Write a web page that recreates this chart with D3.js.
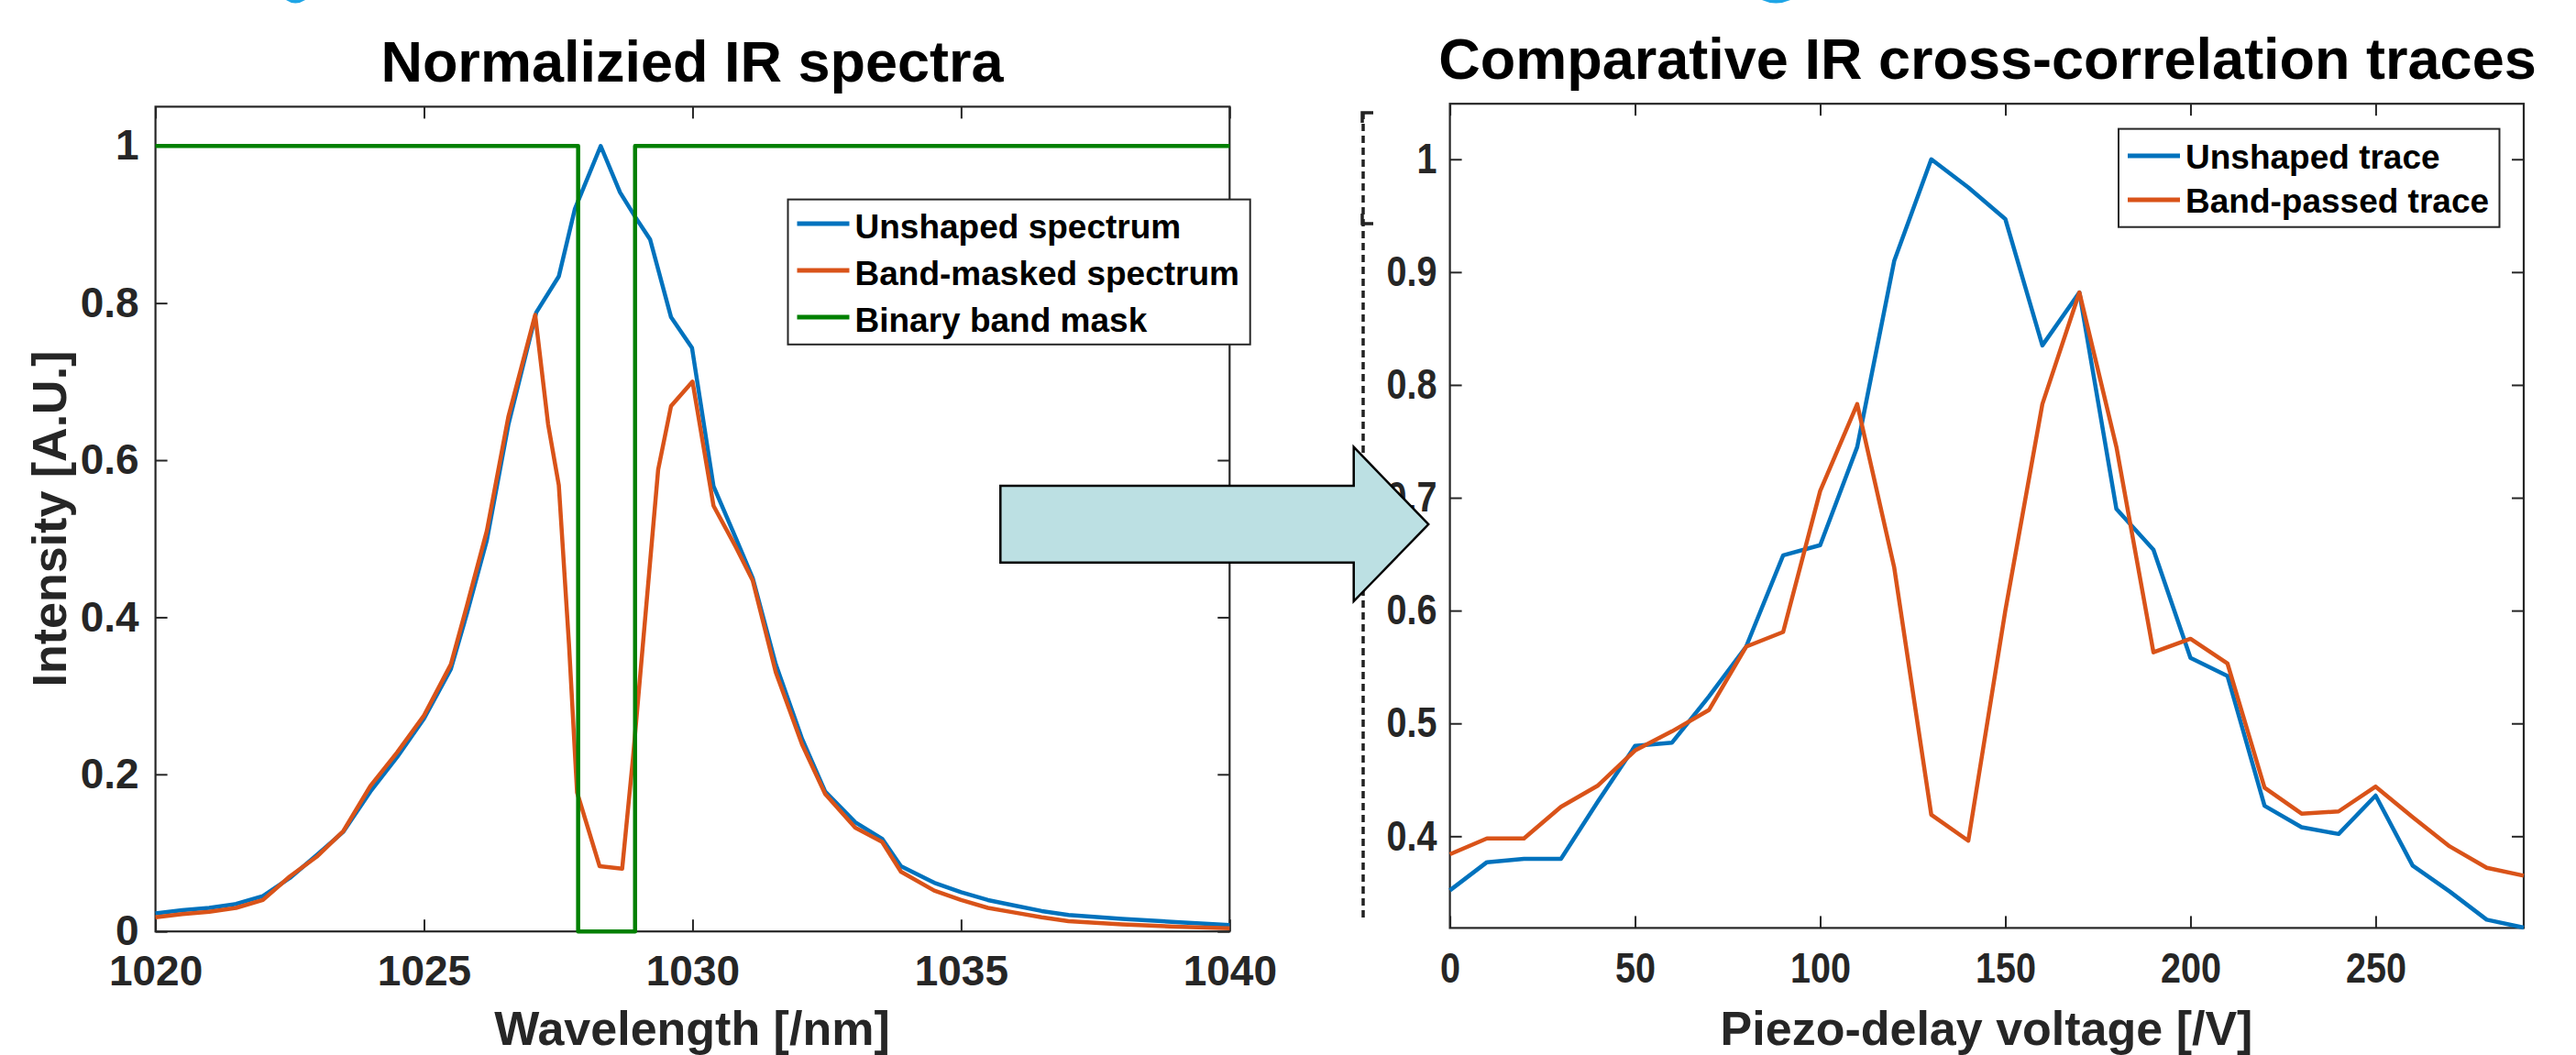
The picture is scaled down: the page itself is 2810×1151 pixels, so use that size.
<!DOCTYPE html>
<html><head><meta charset="utf-8">
<script src="https://cdn.jsdelivr.net/npm/d3@7"></script>
<style>
html,body{margin:0;padding:0;background:#fff;}
svg{display:block;}
text{font-family:"Liberation Sans",Arial,Helvetica,sans-serif;font-weight:bold;}
</style></head>
<body>
<svg id="chart" width="2810" height="1151"></svg>
<script>
// ---------- DATA ----------
const leftTitle = "Normalizied IR spectra";
const rightTitle = "Comparative IR cross-correlation traces";
const leftXLabel = "Wavelength [/nm]";
const leftYLabel = "Intensity [A.U.]";
const rightXLabel = "Piezo-delay voltage [/V]";

const leftXTicks = [1020, 1025, 1030, 1035, 1040];
const leftYTicks = [0, 0.2, 0.4, 0.6, 0.8, 1];
const rightXTicks = [0, 50, 100, 150, 200, 250];
const rightYTicks = [0.4, 0.5, 0.6, 0.7, 0.8, 0.9, 1];

const leftSeriesNames = ["Unshaped spectrum", "Band-masked spectrum", "Binary band mask"];
const rightSeriesNames = ["Unshaped trace", "Band-passed trace"];

const unshapedWavelength = [1020,1020.5,1021,1021.5,1022,1022.5,1023,1023.5,1024,1024.5,1025,1025.5,1025.8,1026.17,1026.57,1027.09,1027.51,1027.81,1028.29,1028.65,1028.93,1029.21,1029.6,1029.99,1030.39,1030.81,1031.12,1031.55,1032.04,1032.47,1033.03,1033.53,1033.88,1034.5,1035,1035.5,1036,1036.5,1037,1038,1039,1040];
const unshapedSpectrum = [0.023,0.027,0.03,0.035,0.045,0.068,0.097,0.127,0.178,0.222,0.271,0.334,0.405,0.498,0.645,0.788,0.834,0.92,1.0,0.941,0.91,0.881,0.782,0.743,0.567,0.50,0.45,0.34,0.245,0.178,0.139,0.118,0.083,0.062,0.05,0.04,0.033,0.026,0.021,0.016,0.012,0.008];

const maskedWavelength = [1020,1020.5,1021,1021.5,1022,1022.5,1023,1023.5,1024,1024.5,1025,1025.5,1025.8,1026.17,1026.57,1027.07,1027.31,1027.51,1027.7,1027.85,1028.27,1028.69,1028.89,1029.36,1029.6,1030,1030.39,1030.81,1031.12,1031.55,1032.04,1032.47,1033.03,1033.53,1033.88,1034.5,1035,1035.5,1036,1036.5,1037,1038,1039,1040];
const maskedSpectrum = [0.018,0.022,0.025,0.03,0.04,0.07,0.095,0.128,0.185,0.228,0.275,0.34,0.415,0.51,0.655,0.785,0.646,0.568,0.365,0.177,0.083,0.08,0.22,0.588,0.669,0.70,0.542,0.489,0.447,0.33,0.238,0.175,0.132,0.114,0.076,0.052,0.04,0.03,0.024,0.018,0.013,0.009,0.006,0.004];

const maskWavelength = [1020, 1027.87, 1027.87, 1028.93, 1028.93, 1040];
const maskValues = [1, 1, 0, 0, 1, 1];

const piezoVoltage = [0,10,20,30,40,50,60,70,80,90,100,110,120,130,140,150,160,170,180,190,200,210,220,230,240,250,260,270,280,290];
const unshapedTrace = [0.352,0.377,0.380,0.380,0.431,0.480,0.483,0.524,0.568,0.649,0.658,0.745,0.910,1.0,0.975,0.947,0.835,0.882,0.69,0.654,0.558,0.542,0.427,0.408,0.402,0.436,0.374,0.351,0.326,0.319];
const bandPassedTrace = [0.384,0.398,0.398,0.426,0.445,0.476,0.493,0.512,0.568,0.581,0.706,0.783,0.638,0.419,0.396,0.60,0.783,0.882,0.745,0.563,0.575,0.553,0.443,0.42,0.422,0.444,0.417,0.391,0.372,0.365];

// ---------- STYLE ----------
const C_BLUE = "#0072BD", C_ORANGE = "#D95319", C_GREEN = "#008000";
const AXIS = "#262626";
const LW = 4.5;
const TICK_FS = 46;

const svg = d3.select("#chart");

function fmt(d){ return String(+d.toFixed(2)); }

function squeeze(sel, sx){
  if (sx === 1) return;
  sel.each(function(){
    const w = this.getComputedTextLength();
    if (w > 0) d3.select(this).attr("textLength", w*sx).attr("lengthAdjust","spacingAndGlyphs");
  });
}

function drawAxes(g, x, y, xt, yt, xPad, yPad, sx){
  const [x0,x1] = x.range(), [y0,y1] = y.range();
  const tick = 13;
  const bx = g.append("g").attr("transform",`translate(0,${y0})`)
    .call(d3.axisBottom(x).tickValues(xt).tickSizeInner(-tick).tickSizeOuter(0).tickPadding(xPad).tickFormat(fmt));
  const tx = g.append("g").attr("transform",`translate(0,${y1})`)
    .call(d3.axisTop(x).tickValues(xt).tickSizeInner(-tick).tickSizeOuter(0).tickFormat(""));
  const ly = g.append("g").attr("transform",`translate(${x0},0)`)
    .call(d3.axisLeft(y).tickValues(yt).tickSizeInner(-tick).tickSizeOuter(0).tickPadding(yPad).tickFormat(fmt));
  const ry = g.append("g").attr("transform",`translate(${x1},0)`)
    .call(d3.axisRight(y).tickValues(yt).tickSizeInner(-tick).tickSizeOuter(0).tickFormat(""));
  [bx,tx,ly,ry].forEach(a=>{
    a.select(".domain").remove();
    a.selectAll(".tick line").attr("stroke",AXIS).attr("stroke-width",2);
    a.selectAll(".tick text").attr("fill",AXIS).style("font-size",TICK_FS+"px")
      .style("font-family","'Liberation Sans',Arial,sans-serif").style("font-weight","bold");
  });
  squeeze(bx.selectAll(".tick text"), sx);
  squeeze(ly.selectAll(".tick text"), sx);
  g.append("rect").attr("x",x0).attr("y",y1).attr("width",x1-x0).attr("height",y0-y1)
    .attr("fill","none").attr("stroke",AXIS).attr("stroke-width",2.2);
}

function drawLine(g, x, y, xs, ys, color){
  const pts = xs.map((v,i)=>[v, ys[i]]);
  g.append("path").datum(pts)
    .attr("d", d3.line().x(d=>x(d[0])).y(d=>y(d[1])))
    .attr("fill","none").attr("stroke",color).attr("stroke-width",LW)
    .attr("stroke-linejoin","round");
}

function drawLegend(g, box, names, colors, rows, baselines){
  g.append("rect").attr("x",box[0]).attr("y",box[1]).attr("width",box[2]-box[0]).attr("height",box[3]-box[1])
    .attr("fill","#fff").attr("stroke",AXIS).attr("stroke-width",2);
  names.forEach((n,i)=>{
    g.append("line").attr("x1",box[0]+10).attr("x2",box[0]+67).attr("y1",rows[i]).attr("y2",rows[i])
      .attr("stroke",colors[i]).attr("stroke-width",LW+0.5);
    g.append("text").attr("x",box[0]+73).attr("y",baselines[i]).text(n)
      .style("font-size","37px").attr("fill","#000");
  });
}

// ---------- LEFT PLOT ----------
const xL = d3.scaleLinear().domain([1020,1040]).range([169.6,1341.3]);
const yL = d3.scaleLinear().domain([0,1.05]).range([1016.2,116.4]);
const gL = svg.append("g");
drawAxes(gL, xL, yL, leftXTicks, leftYTicks, 26, 18, 1);
drawLine(gL, xL, yL, unshapedWavelength, unshapedSpectrum, C_BLUE);
drawLine(gL, xL, yL, maskedWavelength, maskedSpectrum, C_ORANGE);
drawLine(gL, xL, yL, maskWavelength, maskValues, C_GREEN);
drawLegend(gL, [859.5,217.6,1363.7,375.8], leftSeriesNames, [C_BLUE,C_ORANGE,C_GREEN], [244,295,346], [260,311,362]);

gL.append("text").attr("x",755).attr("y",89).attr("text-anchor","middle").style("font-size","63px").attr("fill","#000").text(leftTitle);
gL.append("text").attr("x",755).attr("y",1140).attr("text-anchor","middle").style("font-size","52px").attr("fill",AXIS).text(leftXLabel);
gL.append("text").attr("transform","translate(72,566) rotate(-90)").attr("text-anchor","middle").style("font-size","52px").attr("fill",AXIS).text(leftYLabel);

// ---------- RIGHT PLOT ----------
const xR = d3.scaleLinear().domain([0,290]).range([1581.6,2753]);
const yR = d3.scaleLinear().domain([0.3187,1.0492]).range([1012.4,113.2]);
const gR = svg.append("g");
drawAxes(gR, xR, yR, rightXTicks, rightYTicks, 27, 14, 0.86);
drawLine(gR, xR, yR, piezoVoltage, unshapedTrace, C_BLUE);
drawLine(gR, xR, yR, piezoVoltage, bandPassedTrace, C_ORANGE);
drawLegend(gR, [2311,140.6,2726.5,247.7], rightSeriesNames, [C_BLUE,C_ORANGE], [170,218], [184,232]);

gR.append("text").attr("x",2168).attr("y",86).attr("text-anchor","middle").style("font-size","63px").attr("fill","#000").text(rightTitle);
gR.append("text").attr("x",2167).attr("y",1140).attr("text-anchor","middle").style("font-size","52px").attr("fill",AXIS).text(rightXLabel);

// dashed edge of hidden label box
svg.append("line").attr("x1",1487).attr("x2",1487).attr("y1",122).attr("y2",1003)
  .attr("stroke","#222").attr("stroke-width",3.5).attr("stroke-dasharray","8,5");
svg.append("path").attr("d","M1498,123 L1486,123 L1486,134").attr("fill","none").attr("stroke","#222").attr("stroke-width",3.5);
svg.append("path").attr("d","M1486,233 L1486,244 L1498,244").attr("fill","none").attr("stroke","#222").attr("stroke-width",3.5);

// cut-off fragments at the top edge
svg.append("path").attr("d","M312,0 Q322,7 333,0 Z").attr("fill","#1EA5E6");
svg.append("path").attr("d","M1922,0 Q1937,7 1953,0 Z").attr("fill","#1EA5E6");

// ---------- ARROW ----------
const arrow = [[1091.3,530],[1476.7,530],[1476.7,487.7],[1558.2,572],[1476.7,656],[1476.7,613.7],[1091.3,613.7]];
svg.append("path").attr("d", d3.line()(arrow)+"Z").attr("fill","#BCE0E3").attr("stroke","#000").attr("stroke-width",2.5).attr("stroke-linejoin","miter");
</script>
</body></html>
